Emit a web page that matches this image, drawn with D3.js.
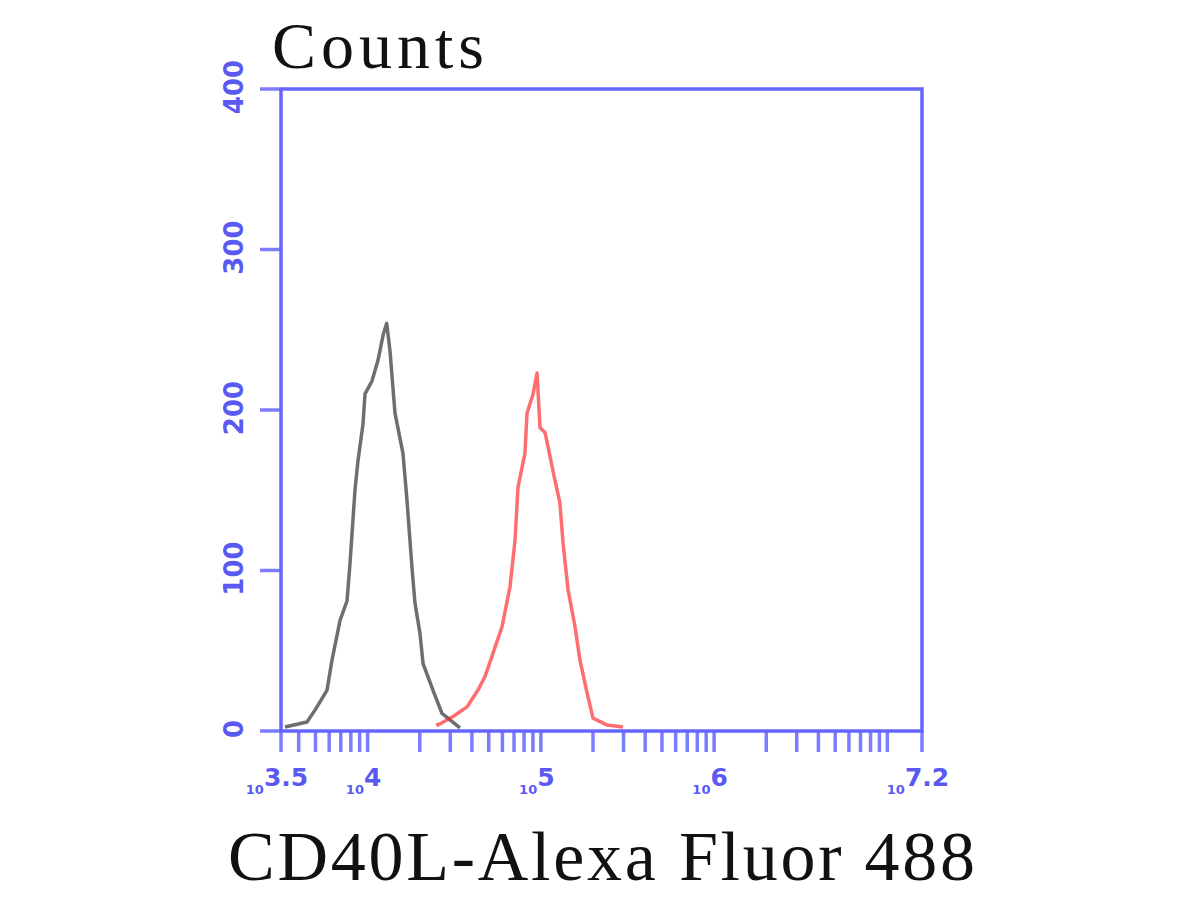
<!DOCTYPE html>
<html>
<head>
<meta charset="utf-8">
<script src="https://cdn.jsdelivr.net/npm/d3@7"></script>
<style>
  html, body { margin: 0; padding: 0; background: #ffffff; }
  svg { display: block; }
</style>
</head>
<body>
<svg id="chart" width="1200" height="900"></svg>
<script>
// ---- data (x given as log10 of fluorescence intensity) ----
const controlLogX = [3.523, 3.650, 3.696, 3.766, 3.794, 3.841, 3.881, 3.898, 3.927, 3.944, 3.973, 3.985, 4.025, 4.060, 4.090, 4.110, 4.129, 4.158, 4.204, 4.227, 4.256, 4.273, 4.302, 4.320, 4.377, 4.429, 4.533];
const controlCounts = [2.5, 5.6, 13, 25.5, 44, 69, 81, 104, 150, 168, 191, 210, 218, 231, 247, 254, 237, 198, 173, 144, 102, 80, 61, 42, 25.5, 11, 2];
const sampleLogX = [4.400, 4.406, 4.493, 4.574, 4.637, 4.678, 4.724, 4.776, 4.822, 4.851, 4.868, 4.908, 4.920, 4.955, 4.978, 4.995, 5.024, 5.070, 5.110, 5.128, 5.157, 5.197, 5.226, 5.266, 5.301, 5.382, 5.474];
const sampleCounts = [5, 3.7, 9, 15, 25.5, 34, 48.5, 65, 90, 119, 152, 173, 198, 210, 223, 189, 186, 162, 142, 117, 88, 65, 44, 24, 8, 3.7, 2.5];
const xDomainLog = [3.5, 7.2];
const xLabelExps = ["3.5", "4", "5", "6", "7.2"];
const yTicks = [0, 100, 200, 300, 400];
const yTitle = "Counts";
const xTitle = "CD40L-Alexa Fluor 488";

const svg = d3.select("#chart");
const L = 281, R = 922, T = 89, B = 731;
const blue = "#6666ff";
const labelBlue = "#5a5af2";

const x = d3.scaleLog().domain(xDomainLog.map(v => Math.pow(10, v))).range([L, R]);
const y = d3.scaleLinear().domain([0, 400]).range([B, T]);

// x minor/major ticks (m * 10^k inside domain) plus domain ends
const xTickVals = [];
for (let k = 3; k <= 7; k++) {
  for (let m = 1; m <= 9; m++) {
    const v = m * Math.pow(10, k);
    if (v >= x.domain()[0] && v <= x.domain()[1]) xTickVals.push(v);
  }
}
xTickVals.push(x.domain()[0], x.domain()[1]);

const tickG = svg.append("g");
tickG.selectAll("line.xt").data(xTickVals).join("line")
  .attr("x1", d => x(d)).attr("x2", d => x(d))
  .attr("y1", B).attr("y2", B + 21)
  .attr("stroke", blue).attr("stroke-width", 3.5).attr("opacity", 0.85);

tickG.selectAll("line.yt").data(yTicks).join("line")
  .attr("x1", L - 21).attr("x2", L)
  .attr("y1", d => y(d)).attr("y2", d => y(d))
  .attr("stroke", blue).attr("stroke-width", 3.5).attr("opacity", 0.85);

// frame
svg.append("rect")
  .attr("x", L).attr("y", T).attr("width", R - L).attr("height", B - T)
  .attr("fill", "none").attr("stroke", blue).attr("stroke-width", 3.5);

// y tick labels (rotated)
svg.selectAll("text.yl").data(yTicks).join("text")
  .attr("transform", d => `translate(243, ${y(d) - 2}) rotate(-90)`)
  .attr("text-anchor", "middle")
  .attr("font-family", "DejaVu Sans")
  .attr("font-weight", "bold")
  .attr("font-size", 26)
  .attr("fill", labelBlue)
  .text(d => d);

// x tick labels: 10^exp
const xl = svg.selectAll("text.xl").data(xLabelExps).join("text")
  .attr("x", d => x(Math.pow(10, +d)) - 4)
  .attr("y", 786)
  .attr("text-anchor", "middle")
  .attr("font-family", "DejaVu Sans")
  .attr("font-weight", "bold")
  .attr("fill", labelBlue);
xl.append("tspan").attr("font-size", 13).attr("dy", 8).text("10");
xl.append("tspan").attr("font-size", 25).attr("dy", -8).text(d => d);

// curves
const line = d3.line().x(d => x(Math.pow(10, d[0]))).y(d => y(d[1]));
svg.append("path")
  .datum(d3.zip(controlLogX, controlCounts))
  .attr("d", line)
  .attr("fill", "none").attr("stroke", "#303030").attr("stroke-opacity", 0.7)
  .attr("stroke-width", 3.5).attr("stroke-linejoin", "round");
svg.append("path")
  .datum(d3.zip(sampleLogX, sampleCounts))
  .attr("d", line)
  .attr("fill", "none").attr("stroke", "#ff2020").attr("stroke-opacity", 0.65)
  .attr("stroke-width", 3.5).attr("stroke-linejoin", "round");

// titles
svg.append("text")
  .attr("x", 272).attr("y", 68)
  .attr("font-family", "Liberation Serif")
  .attr("font-size", 66)
  .attr("textLength", 212).attr("lengthAdjust", "spacing")
  .attr("fill", "#111")
  .text(yTitle);

svg.append("text")
  .attr("x", 228).attr("y", 880)
  .attr("font-family", "Liberation Serif")
  .attr("font-size", 70)
  .attr("textLength", 747).attr("lengthAdjust", "spacing")
  .attr("fill", "#111")
  .text(xTitle);
</script>
</body>
</html>
